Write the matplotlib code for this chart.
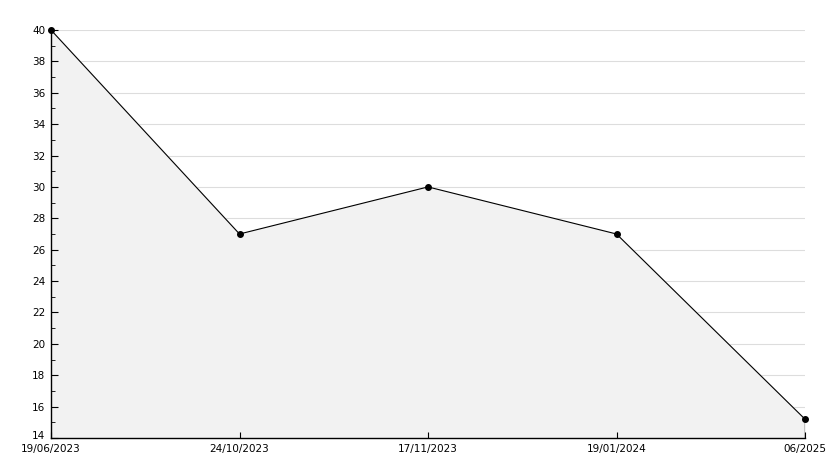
import matplotlib
matplotlib.use("Agg")
import matplotlib.pyplot as plt
import matplotlib.transforms as mtransforms
import numpy as np

dates = ["19/06/2023", "24/10/2023", "17/11/2023", "19/01/2024", "06/2025"]
values = [40, 27, 30, 27, 15.2]
y_ticks = list(range(14, 41, 2))


def main():
    fig = plt.figure(figsize=(8.34, 4.68), dpi=100)
    ax = fig.add_axes([51 / 834, 30 / 468, 754 / 834, 408 / 468])
    x = np.arange(len(dates))

    ax.fill_between(x, values, 14, color="#f2f2f2", zorder=1)
    ax.plot([x[-1], x[-1]], [14, values[-1]], color="black", lw=1, zorder=3)
    ax.plot(x, values, color="black", lw=0.8, marker="o", markersize=4,
            zorder=4, clip_on=False)

    ax.set_xlim(0, len(dates) - 1)
    ax.set_ylim(14, 40)
    ax.set_yticks(y_ticks)
    ax.set_yticks(range(15, 40, 2), minor=True)
    ax.set_xticks(x)
    ax.set_xticklabels(dates)
    for g in y_ticks[1:]:
        ax.axhline(g, color="#dddddd", lw=0.8, zorder=0)

    for s in ["top", "right"]:
        ax.spines[s].set_visible(False)
    ax.spines["left"].set_linewidth(1)
    ax.spines["bottom"].set_linewidth(1)
    ax.tick_params(axis="y", which="major", direction="in", length=5, labelsize=7.5, pad=4)
    ax.tick_params(axis="y", which="minor", direction="in", length=3)
    ax.tick_params(axis="x", length=4, direction="in", labelsize=7.5, pad=4)

    # lift the bottom y label a little so it clears the first date
    lbl = ax.get_yticklabels()[0]
    lbl.set_transform(lbl.get_transform() + mtransforms.ScaledTranslation(0, 2 / 72, fig.dpi_scale_trans))

    fig.savefig("out.png", dpi=100)


if __name__ == "__main__":
    main()
